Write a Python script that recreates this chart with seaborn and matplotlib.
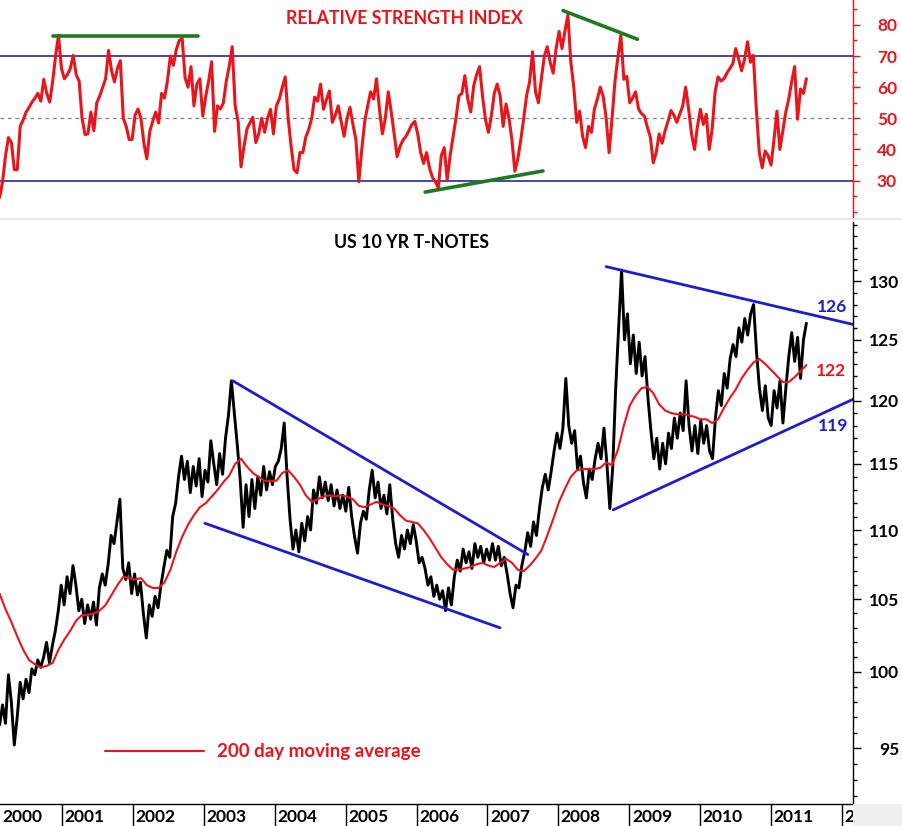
import matplotlib
matplotlib.use("Agg")
import matplotlib.pyplot as plt
from matplotlib.patches import Rectangle
from matplotlib.ticker import FixedLocator, FuncFormatter, NullFormatter
from matplotlib.transforms import blended_transform_factory, offset_copy
import pandas as pd
import seaborn as sns

# ---------------------------------------------------------------- data
# semi-monthly readings, Feb 2000 .. Jul 2011
SERIES_START = "2000-02-15"
SERIES_END = "2011-07-01"

price = [
    96.5, 97.8, 96.6, 99.8, 98.0, 95.2, 97.0, 99.3, 98.2, 99.5,
    98.6, 100.2, 99.8, 100.8, 100.3, 101.0, 102.0, 100.6, 101.8, 102.8,
    104.2, 106.0, 104.6, 106.6, 105.4, 107.4, 106.0, 104.2, 105.0, 103.3,
    104.6, 103.6, 104.8, 103.2, 105.8, 106.8, 106.0, 107.5, 109.6, 109.0,
    110.6, 112.3, 107.2, 106.4, 107.6, 105.4, 106.8, 105.3, 106.2, 104.0,
    102.3, 104.6, 103.8, 105.2, 104.4, 106.0, 107.3, 108.5, 108.0, 111.0,
    112.0, 114.0, 115.6, 113.8, 115.2, 112.8, 114.8, 113.3, 115.4, 112.5,
    114.5, 113.6, 116.8, 115.0, 113.4, 115.8, 114.2, 117.0, 118.8, 121.6,
    119.0, 116.5, 113.8, 110.2, 113.4, 111.0, 113.8, 111.6, 114.0, 112.6,
    114.8, 113.0, 114.4, 113.4, 114.8, 115.2, 116.2, 118.2, 114.0, 110.8,
    108.6, 110.0, 108.4, 110.5, 109.2, 111.0, 110.0, 113.0, 112.0, 114.0,
    112.4, 113.6, 112.2, 113.4, 111.8, 113.0, 111.6, 112.6, 111.4, 113.2,
    111.0, 109.5, 108.3, 110.5, 111.4, 110.8, 113.0, 114.5, 112.4, 113.6,
    111.6, 112.6, 111.2, 113.4, 110.8, 109.0, 108.0, 109.6, 108.6, 110.0,
    109.0, 110.4, 109.2, 107.6, 108.0, 107.2, 106.0, 106.6, 105.2, 106.0,
    105.0, 105.6, 104.2, 105.8, 104.6, 106.6, 107.8, 107.0, 108.6, 107.6,
    108.4, 107.2, 109.0, 108.0, 108.8, 107.6, 108.6, 107.8, 109.0, 107.8,
    108.8, 107.4, 108.0, 106.8, 105.4, 104.4, 106.0, 105.8, 107.4, 108.4,
    109.8, 108.8, 110.6, 109.6, 111.6, 113.2, 114.2, 113.0, 114.4, 116.0,
    117.4, 116.2, 117.8, 121.8, 118.0, 116.6, 117.6, 114.6, 115.6, 113.6,
    112.4, 114.6, 113.8, 115.4, 116.6, 115.4, 117.8, 115.0, 111.6, 114.8,
    121.0, 126.0, 131.0, 125.0, 127.2, 123.0, 125.4, 122.2, 124.8, 122.0,
    123.6, 120.2, 117.6, 115.4, 117.0, 114.6, 116.6, 115.0, 117.4, 116.2,
    118.6, 117.0, 119.0, 117.6, 121.6, 118.0, 116.0, 118.0, 115.8, 118.4,
    116.6, 118.0, 116.0, 115.4, 118.6, 120.8, 119.6, 122.2, 121.0, 123.4,
    124.6, 123.6, 126.0, 124.8, 126.8, 125.4, 127.2, 128.0, 124.0, 121.0,
    119.2, 121.2, 118.6, 118.0, 120.8, 119.4, 121.6, 118.2, 121.0, 123.6,
    125.6, 123.2, 125.2, 121.8, 125.0, 126.4,
]

# 200 day moving average, monthly readings
moving_avg = [
    105.4, 104.3, 103.4, 102.4, 101.5, 100.8, 100.5, 100.3, 100.4, 100.6,
    101.5, 102.2, 102.8, 103.5, 103.9, 103.9, 104.0, 104.2, 104.6, 105.3,
    106.0, 106.6, 106.5, 106.4, 106.5, 106.0, 105.8, 105.8, 106.2, 107.1,
    108.4, 109.5, 110.4, 111.1, 111.7, 112.0, 112.5, 113.0, 113.6, 114.1,
    115.0, 115.4, 114.8, 114.3, 114.0, 113.7, 113.7, 113.7, 114.3, 114.5,
    114.0, 113.4, 112.6, 112.1, 112.3, 112.5, 112.6, 112.5, 112.6, 112.5,
    112.3, 111.8, 111.7, 111.9, 112.1, 111.9, 111.8, 111.6, 111.1, 110.7,
    110.6, 110.5, 110.0, 109.4, 108.7, 108.0, 107.5, 107.1, 107.1, 107.2,
    107.3, 107.5, 107.6, 107.4, 107.3, 107.6, 107.9, 107.6, 107.1, 107.0,
    107.4, 107.9, 108.5, 109.6, 110.8, 112.1, 113.1, 114.0, 114.5, 114.6,
    114.6, 114.6, 114.7, 115.1, 114.9, 116.1, 118.0, 119.6, 120.4, 121.0,
    121.1, 120.6, 119.7, 119.2, 119.0, 118.9, 118.9, 118.8, 118.7, 118.5,
    118.5, 118.2, 118.5, 119.4, 120.2, 120.9, 121.8, 122.5, 123.1, 123.4,
    123.0, 122.5, 122.0, 121.5, 121.5, 121.9, 122.4, 122.9,
]

rsi = [
    24.6, 29.6, 38.0, 43.8, 42.2, 33.5, 33.5, 47.5, 49.5, 52.0,
    53.5, 55.2, 56.5, 58.0, 55.5, 62.5, 58.0, 55.2, 61.7, 70.0,
    76.7, 66.0, 62.7, 64.0, 66.0, 70.2, 64.0, 62.0, 50.0, 44.8,
    45.0, 52.0, 46.0, 55.0, 57.2, 60.0, 62.7, 71.8, 65.3, 61.7,
    66.0, 68.5, 50.0, 47.4, 43.2, 43.2, 51.0, 53.0, 50.0, 42.0,
    37.0, 45.8, 49.0, 52.0, 48.5, 58.0, 56.5, 62.0, 70.0, 67.0,
    72.0, 75.0, 75.7, 63.0, 60.0, 66.6, 54.0, 61.0, 62.7, 50.7,
    57.0, 62.0, 68.2, 45.8, 54.0, 53.0, 55.0, 62.0, 66.8, 73.0,
    54.0, 49.0, 34.4, 41.0, 46.5, 48.5, 50.3, 42.2, 45.0, 50.0,
    45.5, 50.0, 52.9, 45.0, 54.0, 56.2, 60.0, 63.3, 50.0, 41.0,
    33.5, 32.5, 39.0, 39.0, 44.0, 46.5, 50.0, 56.8, 55.5, 61.0,
    52.9, 56.0, 58.8, 48.7, 51.0, 54.0, 49.0, 44.2, 50.0, 53.5,
    48.0, 43.2, 29.6, 40.0, 49.0, 54.0, 58.5, 56.2, 62.7, 53.0,
    45.0, 50.0, 58.5, 52.0, 45.0, 37.7, 41.0, 43.0, 44.2, 46.0,
    48.0, 49.0, 45.0, 39.0, 35.5, 39.0, 34.0, 31.0, 29.6, 27.6,
    38.0, 40.6, 30.2, 38.0, 44.0, 50.0, 57.2, 58.0, 63.7, 56.2,
    52.0, 60.4, 64.0, 66.6, 57.2, 49.7, 45.5, 50.7, 58.0, 61.0,
    57.2, 47.4, 54.6, 50.0, 43.0, 33.0, 37.0, 43.0, 50.0, 57.5,
    61.7, 71.4, 58.5, 55.0, 62.7, 70.0, 73.0, 68.0, 64.5, 72.4,
    77.9, 72.4, 78.0, 83.2, 68.0, 60.0, 48.7, 52.3, 44.2, 40.6,
    47.4, 45.5, 52.9, 56.2, 60.0, 57.0, 50.0, 39.0, 50.0, 62.0,
    69.8, 76.7, 62.5, 63.5, 55.0, 56.5, 58.5, 53.0, 51.5, 50.7,
    47.1, 44.0, 35.7, 39.0, 45.0, 42.0, 46.0, 49.0, 52.5, 51.0,
    48.7, 51.3, 54.0, 60.0, 53.0, 45.0, 40.0, 47.4, 52.9, 48.0,
    51.3, 40.0, 46.5, 58.5, 63.3, 62.0, 62.7, 64.5, 66.0, 67.5,
    72.4, 69.0, 65.3, 69.0, 74.6, 68.0, 70.2, 52.9, 39.0, 34.1,
    39.5, 38.0, 35.0, 43.2, 52.3, 40.0, 46.0, 52.0, 56.2, 61.7,
    66.6, 49.7, 59.4, 58.0, 62.7,
]

years = list(range(2000, 2013))
rsi_ticks = [30, 40, 50, 60, 70, 80]
rsi_minor_ticks = [20, 25, 35, 45, 55, 65, 75, 85]
price_ticks = [95, 100, 105, 110, 115, 120, 125, 130]
price_minor_ticks = list(range(92, 136))

# trend lines: (start date, start value, end date, end value)
rsi_trends = [
    ("2000-11-15", 76.5, "2002-12-01", 76.5),
    ("2006-02-14", 26.3, "2007-10-14", 33.1),
    ("2008-01-25", 84.6, "2009-02-11", 75.4),
]
price_trends = [
    ("2003-05-31", 121.6, "2007-07-28", 108.2),
    ("2003-01-07", 110.5, "2007-03-07", 103.0),
    ("2008-09-03", 131.3, "2012-02-26", 126.3),
    ("2008-10-09", 111.5, "2012-02-26", 120.1),
]

# ---------------------------------------------------------------- style
RED = "#e8151b"
BLUE = "#1c1cd2"
NAVY = "#14149e"
GREEN = "#1e7a1e"
TICK_SIZE = 12.5
TITLE_SIZE = 12.8
LEGEND_SIZE = 13.5

sns.set_style("white")
plt.rcParams["font.family"] = ["Lato", "DejaVu Sans"]
plt.rcParams["font.weight"] = "bold"

W, H = 903, 826
fig = plt.figure(figsize=(W / 100, H / 100), dpi=100)


def add_axes_px(left, top, right, bottom):
    return fig.add_axes([left / W, 1 - bottom / H, (right - left) / W, (bottom - top) / H])


ax_rsi = add_axes_px(0, 0, 853, 217)
ax_px = add_axes_px(0, 222, 853, 804)
ax_yr = add_axes_px(0, 804, 853, 826)

x_start = pd.Timestamp("2000-02-17")
x_end = pd.Timestamp("2012-02-26")

# ---------------------------------------------------------------- RSI panel
rsi_dates = pd.date_range(SERIES_START, SERIES_END, periods=len(rsi))
sns.lineplot(x=rsi_dates, y=rsi, ax=ax_rsi, color=RED, linewidth=2.2)
ax_rsi.axhline(70, color=NAVY, linewidth=1.1, zorder=1)
ax_rsi.axhline(30, color=NAVY, linewidth=1.1, zorder=1)
ax_rsi.axhline(50, color="#808080", linewidth=0.9, linestyle=(0, (3, 3)), zorder=1)
for d0, v0, d1, v1 in rsi_trends:
    ax_rsi.plot([pd.Timestamp(d0), pd.Timestamp(d1)], [v0, v1], color=GREEN, linewidth=2.6)

ax_rsi.set_xlim(x_start, x_end)
ax_rsi.set_ylim(18.3, 88.0)
ax_rsi.set_xticks([])
ax_rsi.set_xlabel("")
ax_rsi.set_ylabel("")
ax_rsi.yaxis.tick_right()
ax_rsi.yaxis.set_major_locator(FixedLocator(rsi_ticks))
ax_rsi.yaxis.set_minor_locator(FixedLocator(rsi_minor_ticks))
ax_rsi.yaxis.set_major_formatter(FuncFormatter(lambda v, _: f"{v:.0f}"))
ax_rsi.yaxis.set_minor_formatter(NullFormatter())
ax_rsi.tick_params(axis="y", which="major", direction="out", length=5.0, width=1.0,
                   color=RED, labelcolor=RED, labelsize=TICK_SIZE, pad=26.6)
ax_rsi.tick_params(axis="y", which="minor", direction="out", length=2.9, width=1.0, color=RED)
for lab in ax_rsi.get_yticklabels():
    lab.set_horizontalalignment("right")
for side in ("top", "left", "bottom"):
    ax_rsi.spines[side].set_visible(False)
ax_rsi.spines["right"].set_color(RED)
ax_rsi.spines["right"].set_linewidth(1.0)

# ---------------------------------------------------------------- price panel
price_dates = pd.date_range(SERIES_START, SERIES_END, periods=len(price))
ma_dates = pd.date_range(SERIES_START, SERIES_END, periods=len(moving_avg))
sns.lineplot(x=price_dates, y=price, ax=ax_px, color="black", linewidth=2.1)
sns.lineplot(x=ma_dates, y=moving_avg, ax=ax_px, color=RED, linewidth=1.5,
             label="200 day moving average")
for d0, v0, d1, v1 in price_trends:
    ax_px.plot([pd.Timestamp(d0), pd.Timestamp(d1)], [v0, v1], color=BLUE, linewidth=2.0)

ax_px.set_yscale("log")
ax_px.set_xlim(x_start, x_end)
ax_px.set_ylim(91.5, 135.3)
ax_px.set_xticks([])
ax_px.set_xlabel("")
ax_px.set_ylabel("")
ax_px.yaxis.tick_right()
ax_px.yaxis.set_major_locator(FixedLocator(price_ticks))
ax_px.yaxis.set_minor_locator(FixedLocator(price_minor_ticks))
ax_px.yaxis.set_major_formatter(FuncFormatter(lambda v, _: f"{v:.0f}"))
ax_px.yaxis.set_minor_formatter(NullFormatter())
ax_px.tick_params(axis="y", which="major", direction="out", length=5.8, width=1.0,
                  color="black", labelcolor="black", labelsize=TICK_SIZE, pad=27.4)
ax_px.tick_params(axis="y", which="minor", direction="out", length=2.9, width=1.0, color="black")
for lab in ax_px.get_yticklabels():
    lab.set_horizontalalignment("right")
for side in ("top", "left", "bottom"):
    ax_px.spines[side].set_visible(False)
ax_px.spines["right"].set_color("black")
ax_px.spines["right"].set_linewidth(1.0)

ax_px.legend(loc="center left", bbox_to_anchor=(105 / 853, (804 - 752) / 582),
             frameon=False, borderpad=0, borderaxespad=0, handlelength=5.3,
             handletextpad=0.7, labelcolor=RED, prop={"size": LEGEND_SIZE, "weight": "bold"})

# ---------------------------------------------------------------- year strip
ax_yr.set_xlim(x_start, x_end)
ax_yr.set_ylim(0, 1)
ax_yr.set_xticks([])
ax_yr.set_yticks([])
for side in ("left", "right", "bottom"):
    ax_yr.spines[side].set_visible(False)
ax_yr.spines["top"].set_color("black")
ax_yr.spines["top"].set_linewidth(1.0)
year_starts = [pd.Timestamp(f"{y}-01-01") for y in years]
label_tr = offset_copy(blended_transform_factory(ax_yr.transData, ax_yr.transAxes),
                       fig=fig, x=2.5, y=0, units="dots")
for start, y in zip(year_starts, years):
    ax_yr.axvline(start, color="black", linewidth=1.0)
    # the first label would start left of the frame: keep it just inside
    ax_yr.text(max(start, x_start), 4 / 22, str(y), transform=label_tr, ha="left",
               va="baseline", fontsize=TICK_SIZE, fontweight="bold", color="black",
               clip_on=True)

# ---------------------------------------------------------------- texts
fig.text(404 / W, 1 - 23.5 / H, "RELATIVE STRENGTH INDEX", color=RED, fontsize=TITLE_SIZE,
         fontweight="bold", ha="center", va="baseline")
fig.text(412 / W, 1 - 248 / H, "US 10 YR T-NOTES", color="black", fontsize=TITLE_SIZE,
         fontweight="bold", ha="center", va="baseline")
for txt, col, cx, base in [("126", BLUE, 832, 312), ("122", RED, 831, 376), ("119", BLUE, 833, 431)]:
    fig.text(cx / W, 1 - base / H, txt, color=col, fontsize=TICK_SIZE, fontweight="bold",
             ha="center", va="baseline")

# light grey fillers outside the chart frame
fig.patches.append(Rectangle((853 / W, 0), 50 / W, 22 / H, transform=fig.transFigure,
                             facecolor="#efefef", edgecolor="none", zorder=0))
fig.patches.append(Rectangle((0, 1 - 220 / H), 1, 2 / H, transform=fig.transFigure,
                             facecolor="#e6e6e6", edgecolor="none", zorder=0))

fig.savefig("out.png", dpi=100)
